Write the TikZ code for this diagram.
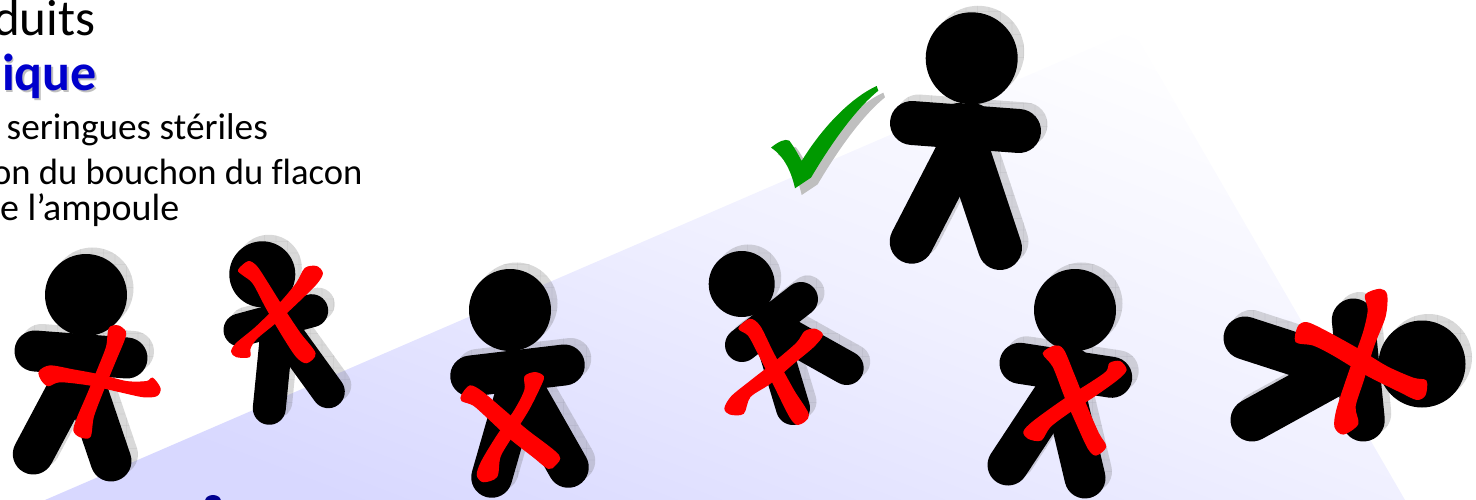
\documentclass[tikz,border=0pt]{standalone}
\usepackage{fontspec}
\setmainfont{Carlito}[Ligatures=CommonOff]
\usetikzlibrary{patterns.meta}
\definecolor{fond}{HTML}{D8D8FF}
\definecolor{milieu}{HTML}{F0F0FF}
\definecolor{vert}{HTML}{009900}
\definecolor{bleu}{HTML}{0000CC}
\definecolor{marine}{HTML}{000090}
\pgfdeclareverticalshading{fondu}{100bp}{color(0bp)=(fond); color(25bp)=(fond); color(52bp)=(milieu); color(76bp)=(white); color(100bp)=(white)}
\tikzset{
  ombre/.style={fill=black!60},
  grille/.style={pattern={Lines[angle=0,distance=11.5pt,line width=.4pt]},pattern color=black},
  grille2/.style={pattern={Lines[angle=90,distance=11.5pt,line width=.4pt]},pattern color=black},
  croix/.style={fill=red, draw=red, line width=1.2pt},
  texte/.style={anchor=base west,inner sep=0pt},
  titre/.style={anchor=base west,inner sep=0pt},
}
% #1,#2 tete, #3 rayon, #4 demi-largeur, #5 membres
\newcommand{\personnage}[5]{%
  \begin{scope}[transparency group,opacity=.25,shift={(6.5,-6.5)}]
    \foreach \st in {ombre,grille,grille2} {
      \path[\st] (#1,#2) circle[radius=#3];
      \foreach \xa/\ya/\xb/\yb in {#5} {
        \pgfmathsetmacro{\ang}{atan2(\yb-\ya,\xb-\xa)}
        \path[\st] (\xa,\ya) ++(\ang+90:#4) arc[start angle=\ang+90,delta angle=180,radius=#4]
          -- ++({\xb-\xa},{\yb-\ya}) arc[start angle=\ang-90,delta angle=180,radius=#4] -- cycle;
      }
    }
  \end{scope}
  \fill[black] (#1,#2) circle[radius=#3];
  \foreach \xa/\ya/\xb/\yb in {#5} {
    \draw[black,line width=2*#4pt,line cap=round] (\xa,\ya) -- (\xb,\yb);
  }
}
\newcommand{\coche}{(63,443) .. controls (85,425) and (105,415) .. (118,422) .. controls (135,445) and (145,465) .. (155,483) .. controls (215,385) and (300,295) .. (380,258) -- (385,272) .. controls (320,325) and (250,420) .. (183,533) -- (135,565) .. controls (125,520) and (105,470) .. (63,443) -- cycle}
\begin{document}
\begin{tikzpicture}[x=1pt, y=-1pt]
  \useasboundingbox (0,0) rectangle (1476,500);
  \shade[shading=fondu, shading angle=-21] (45,500) -- (1133,30) -- (1405,500) -- cycle;

  \node[titre, font=\fontsize{51}{51}\selectfont] (produits) at (-7,36) {duits};
  \node[titre, font=\fontsize{52}{52}\selectfont\bfseries, text=gray!50] (ombretitre) at (3.5,92.5) {ique};
  \node[titre, font=\fontsize{52}{52}\selectfont\bfseries, text=bleu] (technique) at (2,91) {ique};
  \node[texte, font=\fontsize{37.3}{37}\selectfont] (seringues) at (6.5,140) {seringues stériles};
  \node[texte, font=\fontsize{36.6}{37}\selectfont] (bouchon) at (-8,185) {on du bouchon du flacon};
  \node[texte, font=\fontsize{38}{37}\selectfont] (ampoule) at (0,220) {e l’ampoule};
  \fill[marine] (213,501) ellipse[x radius=8, y radius=6];

  % personnage du haut
  \personnage{971.7}{58.3}{46}{22}{912/123/1019/131,972/125/911.7/241.7,959/125/1000/248}
  \begin{scope}[shift={(750,0)}, x=.3333pt, y=-.3333pt]
    \fill[black!25, shift={(20,20)}] \coche;
    \fill[vert] \coche;
  \end{scope}

  % rangee du bas
  \personnage{86}{295}{41}{20.5}{35/351/127/358,86/355/33.3/454,75/355/111/461}
  \begin{scope}[shift={(0,240)}, x=.3333pt, y=-.3333pt]
    \fill[croix] plot[smooth cycle, tension=.5] coordinates {(328,265)(355,258)(376,275)(372,300)(345,365)(310,450)(280,530)(270,590)(240,590)(222,572)(232,535)(262,465)(295,385)(320,320)};
    \fill[croix] plot[smooth cycle, tension=.5] coordinates {(118,395)(150,378)(220,390)(300,405)(380,425)(440,425)(458,415)(480,445)(470,467)(430,470)(360,455)(270,435)(180,425)(145,437)(125,420)};
  \end{scope}

  \personnage{262.3}{274.3}{33}{16.5}{240/330/311.7/310.7,278/320/269.3/408.3,275/318/328.3/391.7}
  \begin{scope}[shift={(0,240)}, x=.3333pt, y=-.3333pt]
    \fill[croix] plot[smooth cycle, tension=.5] coordinates {(716,90)(745,65)(770,80)(800,125)(850,205)(900,280)(945,340)(920,368)(890,350)(850,290)(800,205)(760,130)(730,105)};
    \fill[croix] plot[smooth cycle, tension=.5] coordinates {(916,85)(950,80)(967,100)(950,130)(900,180)(830,245)(770,295)(750,325)(748,350)(710,350)(695,335)(710,310)(770,260)(840,190)(890,130)};
  \end{scope}

  \personnage{510}{310}{41}{20.5}{470.7/376/564.3/365,522/372/491.7/477.3,514/372/568.3/467.3}
  \begin{scope}[shift={(440,240)}, x=.3333pt, y=-.3333pt]
    \fill[croix] plot[smooth cycle, tension=.5] coordinates {(255,410)(285,398)(310,410)(300,440)(265,510)(215,590)(180,650)(170,710)(130,725)(112,705)(125,665)(170,590)(225,510)(255,450)};
    \fill[croix] plot[smooth cycle, tension=.5] coordinates {(66,465)(90,438)(125,455)(190,510)(260,570)(355,645)(345,675)(325,685)(280,650)(210,595)(140,530)(100,495)(66,482)};
  \end{scope}

  \personnage{741.7}{284}{33}{17}{742/345/801/299,768/325/793/408,770/325/846.7/368}
  \begin{scope}[shift={(440,240)}, x=.3333pt, y=-.3333pt]
    \fill[croix] plot[smooth cycle, tension=.5] coordinates {(897,265)(930,238)(960,260)(1000,340)(1060,450)(1105,525)(1075,553)(1050,530)(1000,430)(950,330)(925,285)};
    \fill[croix] plot[smooth cycle, tension=.5] coordinates {(1095,275)(1125,268)(1147,285)(1120,320)(1060,370)(990,430)(930,470)(910,520)(870,522)(855,505)(875,470)(930,425)(1000,370)(1070,310)};
  \end{scope}

  \personnage{1075}{310}{41}{20.5}{1020/363.3/1111.7/377.3,1072/368/1008/465,1059/368/1085/478}
  \begin{scope}[shift={(970,260)}, x=.3333pt, y=-.3333pt]
    \fill[croix] plot[smooth cycle, tension=.5] coordinates {(220,280)(255,258)(280,270)(310,340)(350,440)(385,520)(407,560)(378,585)(355,565)(320,490)(285,410)(250,320)};
    \fill[croix] plot[smooth cycle, tension=.5] coordinates {(420,310)(450,305)(468,330)(440,360)(370,410)(300,455)(240,500)(213,540)(175,535)(162,515)(190,485)(280,420)(360,370)(410,335)};
  \end{scope}

  \personnage{1422}{364}{43.5}{21.5}{1353.3/320/1363.3/420,1245/338/1350/372,1252/420/1350/366}
  \begin{scope}[shift={(1200,280)}, x=.3333pt, y=-.3333pt]
    \fill[croix] plot[smooth cycle, tension=.5] coordinates {(497,45)(540,28)(560,45)(555,110)(520,200)(490,300)(465,380)(473,432)(430,462)(405,440)(412,385)(450,270)(490,160)(505,90)};
    \fill[croix] plot[smooth cycle, tension=.5] coordinates {(288,185)(295,140)(320,128)(370,150)(470,205)(560,260)(640,295)(678,303)(675,345)(650,358)(600,335)(500,285)(400,225)(340,195)};
  \end{scope}
\end{tikzpicture}
\end{document}
